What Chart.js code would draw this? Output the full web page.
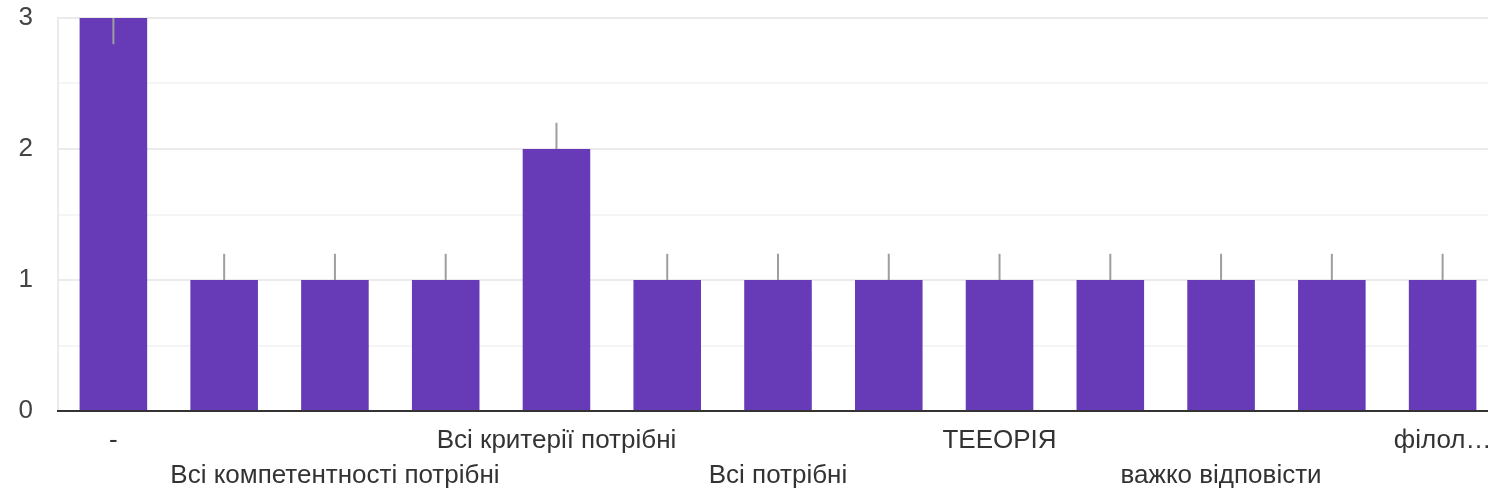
<!DOCTYPE html>
<html>
<head>
<meta charset="utf-8">
<script src="https://cdn.jsdelivr.net/npm/chart.js@4/dist/chart.umd.min.js"></script>
<style>
  html, body { margin: 0; padding: 0; background: #fff; overflow: hidden; }
  body { width: 1488px; height: 497px; }
  #wrap { width: 1498px; height: 497px; }
</style>
</head>
<body>
<div id="wrap"><canvas id="answersChart"></canvas></div>
<script>
// Answer categories (odd ones are hidden by the axis, labels unreadable)
const categories = [
  '-', '', 'Всі компетентності потрібні', '', 'Всі критерії потрібні', '',
  'Всі потрібні', '', 'ТЕЕОРІЯ', '', 'важко відповісти', '', 'філол…'
];
const counts = [3, 1, 1, 1, 2, 1, 1, 1, 1, 1, 1, 1, 1];
const yTicks = [0, 1, 2, 3];
const whiskerSize = 0.2;

// small grey marks on top of each bar
const whiskers = {
  id: 'whiskers',
  afterDatasetsDraw(chart) {
    const { ctx, scales: { x, y } } = chart;
    const yMax = y.max;
    ctx.save();
    ctx.strokeStyle = '#9e9e9e';
    ctx.lineWidth = 2;
    counts.forEach((v, i) => {
      let lo = v, hi = v + whiskerSize;
      if (hi > yMax) { lo = v - whiskerSize; hi = v; }
      const px = x.getPixelForValue(i);
      ctx.beginPath();
      ctx.moveTo(px, y.getPixelForValue(lo));
      ctx.lineTo(px, y.getPixelForValue(hi));
      ctx.stroke();
    });
    ctx.restore();
  }
};

const font = 'Liberation Sans, Arial, sans-serif';

const ctx = document.getElementById('answersChart').getContext('2d');
const answersChart = new Chart(ctx, {
  type: 'bar',
  data: {
    labels: categories,
    datasets: [{
      data: counts,
      backgroundColor: '#673ab7',
      barPercentage: 0.61,
      categoryPercentage: 1
    }]
  },
  options: {
    responsive: true,
    maintainAspectRatio: false,
    animation: false,
    layout: { padding: { left: 17, top: 18, right: 0, bottom: 4 } },
    plugins: { legend: { display: false }, tooltip: { enabled: false } },
    scales: {
      y: {
        min: 0,
        max: 3,
        afterFit(scale) {
          scale.width = 41;
          scale.paddingTop = 0;
          scale.paddingBottom = 0;
        },
        ticks: {
          stepSize: 0.5,
          color: '#444',
          padding: 25,
          font: { family: font, size: 26 },
          callback: (v) => yTicks.includes(v) ? v : ''
        },
        grid: {
          drawTicks: false,
          color: (c) => c.tick && Number.isInteger(c.tick.value) ? '#ebebeb' : '#f5f5f5',
          lineWidth: 2
        },
        border: { display: true, color: '#ebebeb', width: 2 }
      },
      x: {
        afterFit(scale) {
          scale.height = 82;
          scale.paddingLeft = 0;
          scale.paddingRight = 0;
        },
        ticks: {
          autoSkip: false,
          maxRotation: 0,
          color: '#333',
          padding: 12,
          font: { family: font, size: 26, lineHeight: 1.35 },
          callback: function (v, i) {
            const lab = categories[i];
            if (i % 2 !== 0) return '';
            return i % 4 === 0 ? lab : ['', lab];
          }
        },
        grid: { display: false, drawTicks: false },
        border: { color: '#333', width: 2 }
      }
    }
  },
  plugins: [whiskers]
});
</script>
</body>
</html>
